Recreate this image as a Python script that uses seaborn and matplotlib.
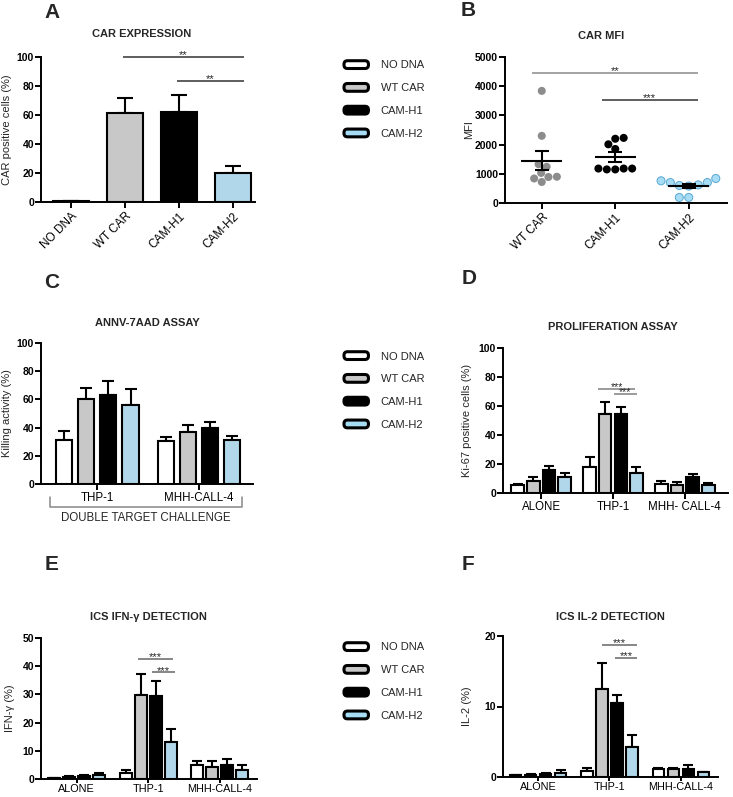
import numpy as np
import pandas as pd
import matplotlib
matplotlib.use('Agg')
import matplotlib.pyplot as plt
import matplotlib.colors as mcolors
import seaborn as sns
from matplotlib.patches import Patch, FancyBboxPatch
from matplotlib.legend_handler import HandlerPatch

# ---- data ----
constructs = ['NO DNA', 'WT CAR', 'CAM-H1', 'CAM-H2']
bar_colors = ['#ffffff', '#c8c8c8', '#000000', '#a6dcf4']
dot_colors = ['#8c8c8c', '#000000', '#a6dcf4']

# A: CAR expression (% positive cells), mean and SEM
car_expr_mean = [0.5, 61.5, 62.0, 20.0]
car_expr_sem = [0.2, 10.5, 11.5, 4.5]

# B: CAR MFI, single donors
mfi_wt = [3840, 2300, 1240, 1330, 1030, 900, 840, 890, 720]
mfi_h1 = [2010, 2200, 2230, 1850, 1180, 1150, 1150, 1180, 1180]
mfi_h2 = [700, 760, 840, 700, 600, 620, 580, 190, 190]

# C: ANNV-7AAD killing (rows = constructs, cols = targets)
killing_targets = ['THP-1', 'MHH-CALL-4']
killing_mean = [[31.1, 30.4], [60.1, 37.0], [63.0, 39.4], [55.7, 31.1]]
killing_sem = [[6.4, 3.1], [8.1, 5.0], [9.9, 4.7], [11.5, 3.1]]

# D: Ki-67 proliferation
prolif_conditions = ['ALONE', 'THP-1', 'MHH- CALL-4']
prolif_mean = [[5.5, 17.9, 6.4], [8.3, 54.7, 5.7], [16.1, 54.7, 10.8], [11.0, 13.8, 5.3]]
prolif_sem = [[0.9, 6.7, 2.1], [2.7, 8.1, 1.9], [2.8, 4.6, 2.3], [2.6, 3.9, 1.6]]

# E: ICS IFN-gamma
ics_conditions = ['ALONE', 'THP-1', 'MHH-CALL-4']
ifng_mean = [[0.35, 2.3, 4.9], [0.6, 29.9, 4.1], [1.2, 29.5, 5.0], [1.5, 13.1, 3.2]]
ifng_sem = [[0.1, 1.0, 1.5], [0.3, 7.2, 2.3], [0.3, 5.3, 2.0], [0.6, 4.5, 1.8]]

# F: ICS IL-2
il2_mean = [[0.23, 0.9, 1.17], [0.33, 12.55, 1.17], [0.42, 10.45, 1.17], [0.6, 4.3, 0.65]]
il2_sem = [[0.1, 0.4, 0.13], [0.09, 3.65, 0.09], [0.1, 1.25, 0.47], [0.34, 1.7, 0.1]]

sns.set_style('ticks')
plt.rcParams['font.family'] = ['Liberation Sans', 'DejaVu Sans']

W, H = 733, 797
fig = plt.figure(figsize=(W / 100, H / 100), dpi=100)


def add_axes_px(l, t, r, b):
    return fig.add_axes([l / W, 1 - b / H, (r - l) / W, (b - t) / H])


def finish(ax, box, ylim, step, ylabel, label_px, xsize=8.3, xpad=2, xlen=4):
    l, t, r, b = box
    sns.despine(ax=ax)
    ax.set_ylim(*ylim)
    ax.set_yticks(np.arange(ylim[0], ylim[1] + step / 2, step))
    for s in ('left', 'bottom'):
        ax.spines[s].set_linewidth(1.4)
        ax.spines[s].set_color('black')
    ax.tick_params(axis='both', width=1.4, length=4, direction='out', colors='black')
    ax.tick_params(axis='y', labelsize=7.5, pad=1)
    ax.tick_params(axis='x', labelsize=xsize, pad=xpad, length=xlen)
    plt.setp(ax.get_yticklabels(), fontweight='bold')
    ax.set_xlabel('')
    ax.set_ylabel(ylabel, fontsize=8)
    ax.yaxis.set_label_coords((label_px - l) / (r - l), 0.5)


def long_form(conditions, means, sems):
    rows = []
    for c, m_row, s_row in zip(constructs, means, sems):
        for cond, m, s in zip(conditions, m_row, s_row):
            rows.append({'construct': c, 'condition': cond, 'value': m, 'sem': s})
    return pd.DataFrame(rows)


def up_errorbars(ax, xs, ys, es, capsize):
    ax.errorbar(xs, ys, yerr=[np.zeros(len(es)), es], fmt='none', ecolor='black',
                elinewidth=1.5, capsize=capsize, capthick=1.5, zorder=0.9)


def grouped(ax, conditions, means, sems, width, gap, capsize=4):
    df = long_form(conditions, means, sems)
    sns.barplot(data=df, x='condition', y='value', hue='construct', hue_order=constructs,
                order=conditions, palette=bar_colors, edgecolor='black', linewidth=1.5,
                width=width, gap=gap, errorbar=None, legend=False, ax=ax)
    slot = width / len(constructs)
    xs, ys, es = [], [], []
    for p in ax.patches:
        xc = p.get_x() + p.get_width() / 2
        ci = int(round(xc))
        hi = int(round((xc - ci) / slot + 1.5))
        xs.append(xc)
        ys.append(p.get_height())
        es.append(sems[hi][ci])
    up_errorbars(ax, xs, ys, es, capsize)


def sig(ax, x0, x1, y, stars, color, size=8):
    ax.plot([x0, x1], [y, y], color=color, lw=1.1, clip_on=False, solid_capstyle='butt')
    ax.annotate(stars, xy=((x0 + x1) / 2, y), xytext=(0, -1), textcoords='offset points',
                ha='center', va='baseline', fontsize=size)


def title(x, y, text):
    fig.text(x / W, 1 - y / H, text, ha='center', va='center', fontsize=8, fontweight='bold')


def letter(x, y, text):
    fig.text(x / W, 1 - y / H, text, ha='center', va='center', fontsize=15, fontweight='bold')


class RoundBox(HandlerPatch):
    def create_artists(self, legend, orig_handle, xdescent, ydescent, width, height,
                       fontsize, trans):
        p = FancyBboxPatch((-xdescent, -ydescent), width, height,
                           boxstyle='round,pad=0,rounding_size=2.5',
                           facecolor=orig_handle.get_facecolor(), edgecolor='black',
                           linewidth=2.2, transform=trans)
        return [p]


def legend(x, y):
    handles = [Patch(facecolor=c, edgecolor='black', label=l)
               for c, l in zip(bar_colors, constructs)]
    fig.legend(handles=handles, loc='upper left', bbox_to_anchor=(x / W, 1 - y / H),
               frameon=False, fontsize=8, handlelength=2.2, handleheight=0.7,
               handletextpad=1.1, labelspacing=1.15, borderpad=0, borderaxespad=0,
               handler_map={Patch: RoundBox()})


# ---- A ----
boxA = (41, 57, 255, 202)
axA = add_axes_px(*boxA)
dfA = pd.DataFrame({'construct': constructs, 'value': car_expr_mean})
sns.barplot(data=dfA, x='construct', y='value', hue='construct', palette=bar_colors,
            edgecolor='black', linewidth=1.5, width=0.66, errorbar=None, legend=False, ax=axA)
up_errorbars(axA, [p.get_x() + p.get_width() / 2 for p in axA.patches],
             [p.get_height() for p in axA.patches], car_expr_sem, 6)
axA.set_xlim(-0.55, 3.4)
finish(axA, boxA, (0, 100), 20, 'CAR positive cells (%)', 12)
plt.setp(axA.get_xticklabels(), rotation=45, ha='right', rotation_mode='anchor', fontsize=8.5)
sig(axA, 0.97, 3.19, 100, '**', '#333333')
sig(axA, 1.96, 3.19, 83.5, '**', '#333333')
title(142, 34, 'CAR EXPRESSION')
letter(52, 12, 'A')

# ---- B ----
boxB = (505, 57, 727, 203)
axB = add_axes_px(*boxB)
mfi_sets = [mfi_wt, mfi_h1, mfi_h2]
dfB = pd.DataFrame({'construct': np.repeat(constructs[1:], [len(v) for v in mfi_sets]),
                    'mfi': np.concatenate(mfi_sets)})
sns.swarmplot(data=dfB, x='construct', y='mfi', hue='construct', order=constructs[1:],
              palette=dot_colors, size=5.8, linewidth=0, legend=False, ax=axB)
blue = np.array(mcolors.to_rgba(dot_colors[2]))
for coll in axB.collections:
    fc = coll.get_facecolors()
    if len(fc) and np.allclose(fc[0], blue, atol=0.02):
        coll.set_edgecolor('#5aa8d2')
        coll.set_linewidth(0.7)
for i, vals in enumerate(mfi_sets):
    m = np.mean(vals)
    sem = np.std(vals, ddof=1) / np.sqrt(len(vals))
    axB.hlines(m, i - 0.28, i + 0.28, color='black', lw=1.5, zorder=5)
    axB.errorbar(i, m, yerr=sem, fmt='none', ecolor='black', elinewidth=1.5,
                 capsize=5, capthick=1.5, zorder=5)
axB.set_xlim(-0.5, 2.52)
finish(axB, boxB, (0, 5000), 1000, 'MFI', 474)
plt.setp(axB.get_xticklabels(), rotation=45, ha='right', rotation_mode='anchor', fontsize=8.5)
sig(axB, -0.13, 2.12, 4450, '**', '#8a8a8a')
sig(axB, 0.82, 2.12, 3530, '***', '#333333')
title(601, 36, 'CAR MFI')
letter(468, 11, 'B')

# ---- C ----
boxC = (41, 343, 253, 484)
axC = add_axes_px(*boxC)
grouped(axC, killing_targets, killing_mean, killing_sem, 0.875, 0.28, 4.5)
axC.set_xlim(-0.55, 1.53)
finish(axC, boxC, (0, 100), 20, 'Killing activity (%)', 12)
tr = axC.get_xaxis_transform()
axC.plot([-0.46, -0.46, 1.42, 1.42], [-0.092, -0.163, -0.163, -0.092], color='#888888',
         lw=1.1, transform=tr, clip_on=False)
axC.text(0.48, -0.241, 'DOUBLE TARGET CHALLENGE', transform=tr, ha='center', va='center',
         fontsize=8.3)
title(147, 323, 'ANNV-7AAD ASSAY')
letter(52, 283, 'C')

# ---- D ----
boxD = (503, 348, 728, 493)
axD = add_axes_px(*boxD)
grouped(axD, prolif_conditions, prolif_mean, prolif_sem, 0.87, 0.2, 3.5)
axD.set_xlim(-0.53, 2.6)
finish(axD, boxD, (0, 100), 20, 'Ki-67 positive cells (%)', 472)
sig(axD, 0.79, 1.31, 71.7, '***', '#808080', 7.5)
sig(axD, 1.01, 1.33, 68.3, '***', '#808080', 7.5)
title(613, 327, 'PROLIFERATION ASSAY')
letter(469, 279, 'D')

# ---- E ----
boxE = (41, 638, 257, 779)
axE = add_axes_px(*boxE)
grouped(axE, ics_conditions, ifng_mean, ifng_sem, 0.84, 0.22, 3.5)
axE.set_xlim(-0.5, 2.52)
finish(axE, boxE, (0, 50), 10, 'IFN-γ (%)', 15, xsize=7.8, xpad=0.8, xlen=3)
sig(axE, 0.85, 1.35, 42.7, '***', '#666666')
sig(axE, 1.05, 1.38, 37.8, '***', '#666666')
title(148, 617, 'ICS IFN-γ DETECTION')
letter(52, 565, 'E')

# ---- F ----
boxF = (503, 636, 718, 777)
axF = add_axes_px(*boxF)
grouped(axF, ics_conditions, il2_mean, il2_sem, 0.84, 0.22, 3.5)
axF.set_xlim(-0.49, 2.52)
finish(axF, boxF, (0, 20), 10, 'IL-2 (%)', 472, xsize=7.8, xpad=0.8, xlen=3)
sig(axF, 0.89, 1.39, 18.7, '***', '#666666')
sig(axF, 1.08, 1.39, 16.9, '***', '#666666')
title(610, 617, 'ICS IL-2 DETECTION')
letter(468, 564, 'F')

# ---- legends ----
legend(344, 60.5)
legend(344, 351.5)
legend(344, 642.5)

fig.savefig('out.png', dpi=100)
